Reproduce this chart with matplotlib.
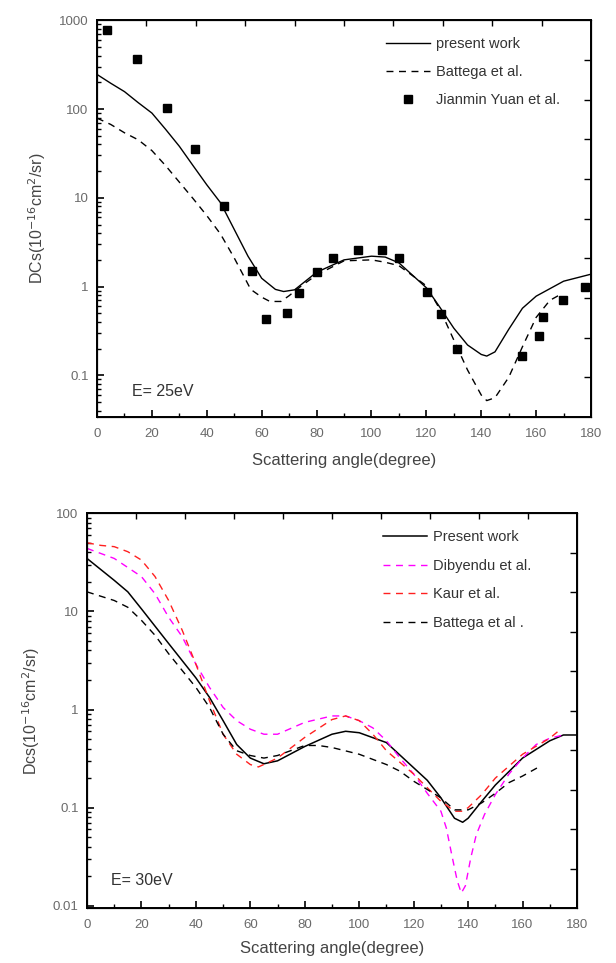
import numpy as np
import matplotlib
matplotlib.use("Agg")
import matplotlib.pyplot as plt

plt.rcParams['font.family'] = ['Liberation Sans', 'DejaVu Sans']

# ---- E = 25 eV panel ----
angle_present_25 = [0, 5, 10, 15, 20, 25, 30, 35, 40, 45, 50, 55, 60, 65, 68, 72, 80, 90,
                    100, 105, 110, 120, 125, 130, 135, 140, 142, 145, 150, 155, 160, 170, 180]
dcs_present_25 = [245, 195, 157, 118, 90, 59, 38, 23, 14, 8.8, 4.4, 2.2, 1.24, 0.93, 0.88, 0.92,
                  1.45, 2.0, 2.2, 2.15, 1.85, 0.97, 0.58, 0.34, 0.22, 0.172, 0.165, 0.184,
                  0.33, 0.57, 0.78, 1.15, 1.38]

angle_battega_25 = [0, 5, 10, 15, 20, 25, 30, 35, 40, 45, 50, 53, 56, 60, 63, 67, 70, 75, 80, 90,
                    100, 105, 110, 120, 125, 130, 135, 140, 142, 145, 150, 155, 160, 165, 169]
dcs_battega_25 = [79, 67, 54, 45, 34, 23, 15, 9.8, 6.3, 3.9, 2.1, 1.4, 0.93, 0.76, 0.68, 0.68,
                  0.79, 1.05, 1.35, 1.95, 2.0, 1.88, 1.72, 1.02, 0.55, 0.25, 0.115, 0.060,
                  0.052, 0.056, 0.095, 0.21, 0.45, 0.70, 0.82]

angle_yuan_25 = [3.6, 14.5, 25.6, 35.7, 46.2, 56.3, 61.6, 69.1, 73.6, 80, 85.8, 95.2, 104,
                 110.2, 120.4, 125.2, 131, 151.6, 154.7, 161, 162.6, 169.9, 177.8]
dcs_yuan_25 = [770, 365, 103, 35, 8.1, 1.5, 0.43, 0.50, 0.84, 1.47, 2.1, 2.6, 2.6, 2.1, 0.87,
               0.49, 0.20, 0.031, 0.165, 0.28, 0.45, 0.70, 0.99]

# ---- E = 30 eV panel ----
angle_present_30 = [0, 10, 15, 20, 30, 40, 45, 50, 55, 60, 65, 70, 80, 90, 95, 100, 110, 120,
                    125, 130, 135, 138, 140, 145, 150, 160, 170, 175, 180]
dcs_present_30 = [34.6, 20.7, 15.8, 10.6, 4.7, 2.1, 1.33, 0.77, 0.44, 0.32, 0.28, 0.30, 0.42,
                  0.56, 0.60, 0.58, 0.46, 0.255, 0.19, 0.126, 0.078, 0.071, 0.078, 0.116, 0.17,
                  0.32, 0.48, 0.55, 0.55]

angle_dibyendu_30 = [0, 10, 20, 25, 30, 35, 40, 45, 50, 55, 60, 65, 70, 80, 90, 95, 100, 105,
                     110, 115, 120, 125, 130, 132, 134, 136, 137.5, 139, 141, 143, 146, 150,
                     155, 160, 165, 170, 175]
dcs_dibyendu_30 = [43.8, 34.6, 22.6, 15.1, 8.7, 5.5, 2.9, 1.68, 1.05, 0.77, 0.63, 0.56, 0.56,
                   0.74, 0.86, 0.86, 0.77, 0.65, 0.48, 0.32, 0.22, 0.14, 0.092, 0.062, 0.033,
                   0.018, 0.0135, 0.016, 0.031, 0.053, 0.085, 0.136, 0.22, 0.32, 0.44, 0.51, 0.55]

angle_kaur_30 = [0, 5, 10, 15, 20, 25, 30, 35, 40, 45, 50, 55, 60, 63, 70, 80, 90, 95, 100,
                 105, 110, 120, 130, 135, 138, 140, 145, 150, 160, 170, 174]
dcs_kaur_30 = [50, 47, 45.6, 40.5, 33.3, 22.6, 12.9, 6.4, 2.9, 1.23, 0.56, 0.35, 0.275, 0.26,
               0.32, 0.52, 0.79, 0.86, 0.77, 0.56, 0.38, 0.22, 0.116, 0.092, 0.092, 0.10,
               0.136, 0.20, 0.35, 0.51, 0.63]

angle_battega_30 = [0, 10, 15, 20, 25, 30, 40, 45, 50, 55, 60, 65, 70, 80, 85, 90, 100, 110,
                    115, 120, 130, 135, 140, 145, 150, 155, 160, 166]
dcs_battega_30 = [15.8, 12.9, 11, 8.1, 5.7, 3.7, 1.68, 1.05, 0.56, 0.38, 0.34, 0.32, 0.34,
                  0.43, 0.43, 0.41, 0.35, 0.275, 0.235, 0.186, 0.126, 0.095, 0.095, 0.112,
                  0.14, 0.18, 0.21, 0.26]

TICK_GRAY = '#6a6a6a'
TEXT_DARK = '#333333'
LABEL_GRAY = '#444444'
DASH = (0, (5, 4))


def style_axes(ax, ylim):
    ax.set_yscale('log')
    ax.set_xlim(0, 180)
    ax.set_ylim(*ylim)
    ax.set_xticks(np.arange(0, 181, 20))
    ax.set_xticks(np.arange(10, 180, 20), minor=True)
    ax.tick_params(which='major', direction='in', length=5, width=1.2,
                   labelsize=9.5, labelcolor=TICK_GRAY)
    ax.tick_params(axis='x', which='major', pad=8)
    ax.tick_params(axis='y', which='major', pad=6)
    ax.tick_params(which='minor', direction='in', length=3, width=1.0)
    ax.yaxis.set_major_formatter(matplotlib.ticker.FuncFormatter(lambda v, p: f"{v:g}"))
    ax.yaxis.set_minor_formatter(matplotlib.ticker.NullFormatter())
    for sp in ax.spines.values():
        sp.set_linewidth(1.4)
    # Origin style opposite axes: 10 equal divisions
    tx = ax.twiny()
    tx.set_xlim(0, 1)
    tx.set_xticks(np.arange(0.1, 1.0, 0.1))
    tx.tick_params(direction='in', length=4, width=1.0, labeltop=False)
    ty = ax.twinx()
    ty.set_ylim(0, 1)
    ty.set_yticks(np.arange(0.1, 1.0, 0.1))
    ty.tick_params(direction='in', length=5, width=1.0, labelright=False)


fig = plt.figure(figsize=(6.16, 9.63), dpi=100)

# top panel
ax1 = fig.add_axes([0.1575, 0.567, 0.802, 0.412])
ax1.plot(angle_present_25, dcs_present_25, color='black', lw=1.0, label='present work')
ax1.plot(angle_battega_25, dcs_battega_25, color='black', lw=1.0, ls=DASH, label='Battega et al.')
ax1.plot(angle_yuan_25, dcs_yuan_25, ls='none', marker='s', ms=6, color='black',
         label='Jianmin Yuan et al.')
ax1.set_xlabel('Scattering angle(degree)', fontsize=12, color=LABEL_GRAY, labelpad=9)
ax1.set_ylabel(r'DCs(10$^{-16}$cm$^{2}$/sr)', fontsize=11.5, color=LABEL_GRAY, labelpad=8)
leg1 = ax1.legend(loc='upper left', bbox_to_anchor=(0.574, 0.972), borderaxespad=0,
                  frameon=False, fontsize=10.5, handlelength=3.0,
                  labelspacing=0.95, handletextpad=0.4)
for t in leg1.get_texts():
    t.set_color(TEXT_DARK)
ax1.text(0.07, 0.063, 'E= 25eV', transform=ax1.transAxes, fontsize=11.5,
         color=TEXT_DARK, va='center')
style_axes(ax1, (0.034, 1000))

# bottom panel
ax2 = fig.add_axes([0.1412, 0.0571, 0.7955, 0.410])
ax2.plot(angle_present_30, dcs_present_30, color='black', lw=1.1, label='Present work')
ax2.plot(angle_dibyendu_30, dcs_dibyendu_30, color='#ff00ff', lw=1.0, ls=DASH,
         label='Dibyendu et al.')
ax2.plot(angle_kaur_30, dcs_kaur_30, color='#ff2020', lw=1.0, ls=DASH, label='Kaur et al.')
ax2.plot(angle_battega_30, dcs_battega_30, color='black', lw=1.0, ls=DASH,
         label='Battega et al .')
ax2.set_xlabel('Scattering angle(degree)', fontsize=12, color=LABEL_GRAY, labelpad=7)
ax2.set_ylabel(r'Dcs(10$^{-16}$cm$^{2}$/sr)', fontsize=11.5, color=LABEL_GRAY, labelpad=8)
leg2 = ax2.legend(loc='upper left', bbox_to_anchor=(0.593, 0.972), borderaxespad=0,
                  frameon=False, fontsize=10.5, handlelength=3.0,
                  labelspacing=1.0, handletextpad=0.4)
for t in leg2.get_texts():
    t.set_color(TEXT_DARK)
ax2.text(0.048, 0.069, 'E= 30eV', transform=ax2.transAxes, fontsize=11.5,
         color=TEXT_DARK, va='center')
style_axes(ax2, (0.0095, 100))

fig.savefig('out.png', dpi=100)
